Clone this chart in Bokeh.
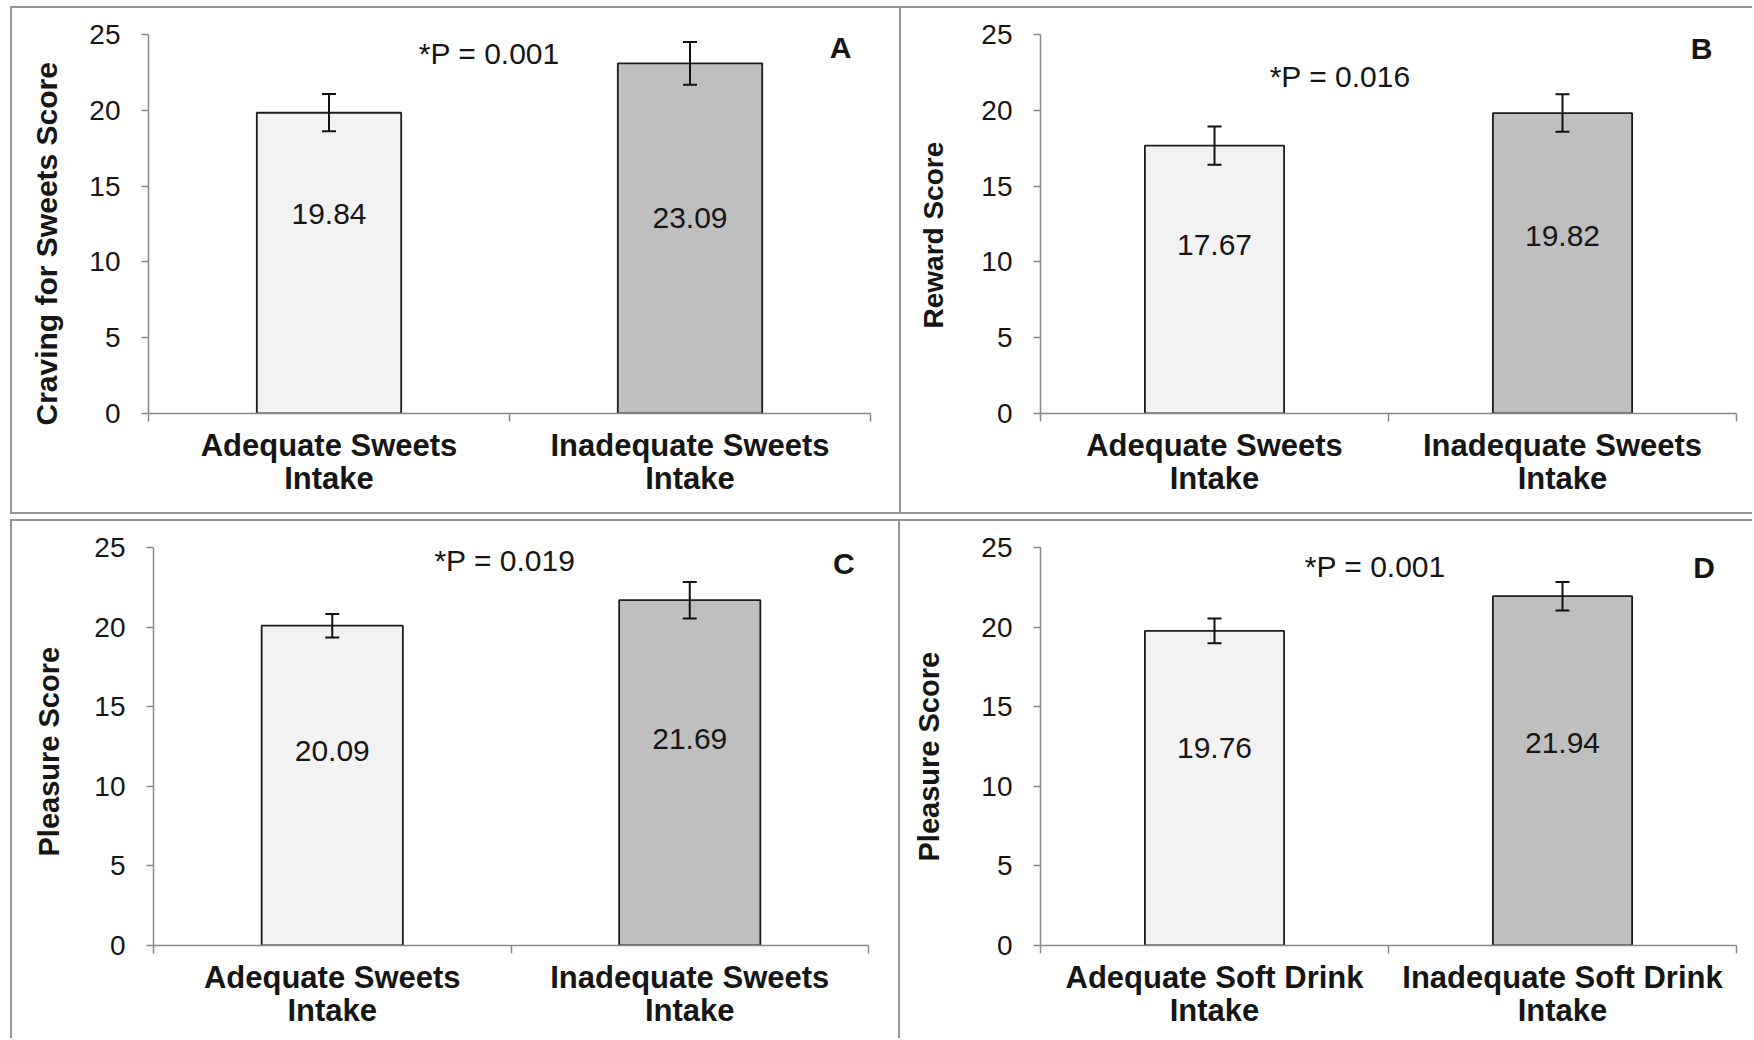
from bokeh.plotting import figure
from bokeh.models import Range1d, FixedTicker, Whisker, ColumnDataSource, TeeHead, Title, Spacer
from bokeh.layouts import row, column
from bokeh.embed import file_html
from bokeh.resources import INLINE
from bokeh.core.properties import value

FONT = "Liberation Sans"

# ---------------- data ----------------
sweets_categories = ["Adequate Sweets\nIntake", "Inadequate Sweets\nIntake"]
soft_categories = ["Adequate Soft Drink\nIntake", "Inadequate Soft Drink\nIntake"]
y_ticks = [0, 5, 10, 15, 20, 25]

craving_means = [19.84, 23.09]
craving_errors = [1.23, 1.41]
reward_means = [17.67, 19.82]
reward_errors = [1.26, 1.24]
pleasure_sweets_means = [20.09, 21.69]
pleasure_sweets_errors = [0.74, 1.15]
pleasure_soft_means = [19.76, 21.94]
pleasure_soft_errors = [0.78, 0.90]

panel_letters = ["A", "B", "C", "D"]
y_titles = ["Craving for Sweets  Score", "Reward Score", "Pleasure Score", "Pleasure Score"]
p_values = ["*P = 0.001", "*P = 0.016", "*P = 0.019", "*P = 0.001"]

# ---------------- styles / layout ----------------
bar_fills = ["#f2f2f2", "#bfbfbf"]
BORDER = "2px solid #959595"
AXIS = "#888888"
TXT = "#161616"

geometry = {
    "A": dict(w=887, h=504, l=136, r=33, t=26, b=103, bw=0.40,
              sides=["top", "left", "right", "bottom"],
              pv=(0.944, 23.73), let=(1.917, 24.17), vy=[13.17, 12.9],
              yt_off=-12, yt_pad=22, yt_stand_fb=42, yt_size="30px"),
    "B": dict(w=851, h=504, l=139, r=16, t=26, b=103, bw=0.40,
              sides=["top", "bottom"],
              pv=(0.861, 22.2), let=(1.90, 24.05), vy=[11.1, 11.7],
              yt_off=85, yt_pad=28, yt_stand_fb=47, yt_size="28px"),
    "C": dict(w=886, h=517, l=141, r=34, t=26, b=95, bw=0.395,
              sides=["top", "left", "right"],
              pv=(0.983, 24.16), let=(1.931, 24.01), vy=[12.2, 12.96],
              yt_off=89, yt_pad=25, yt_stand_fb=48, yt_size="29px"),
    "D": dict(w=852, h=517, l=140, r=16, t=26, b=95, bw=0.40,
              sides=["top"],
              pv=(0.962, 23.8), let=(1.907, 23.74), vy=[12.4, 12.7],
              yt_off=84, yt_pad=32, yt_stand_fb=47, yt_size="29px"),
}


def y_title(text, g):
    common = dict(text=text, align="left", offset=g["yt_off"],
                  text_font=FONT, text_font_size=g["yt_size"], text_font_style="bold",
                  text_color=TXT)
    try:
        return Title(standoff=4,
                     padding=dict(left=0, right=0, top=0, bottom=g["yt_pad"]),
                     **common)
    except Exception:
        return Title(standoff=g["yt_stand_fb"], **common)


def make_panel(letter, cats, means, errs, ytitle, ptext):
    g = geometry[letter]
    n = len(cats)
    xs = [i + 0.5 for i in range(n)]
    styles = {"box-sizing": "content-box"}
    for s in g["sides"]:
        styles["border-" + s] = BORDER
    p = figure(width=g["w"], height=g["h"],
               x_range=Range1d(0, n), y_range=Range1d(0, 25),
               output_backend="svg", toolbar_location=None,
               min_border_left=g["l"], min_border_right=g["r"],
               min_border_top=g["t"], min_border_bottom=g["b"],
               background_fill_color="white", border_fill_color="white",
               outline_line_color=None, styles=styles)
    p.grid.visible = False

    src = ColumnDataSource(dict(
        x=xs, top=means,
        upper=[m + e for m, e in zip(means, errs)],
        lower=[m - e for m, e in zip(means, errs)],
        fill=bar_fills[:n],
        label=["%.2f" % m for m in means],
        ly=g["vy"],
    ))
    p.vbar(x="x", top="top", bottom=0, width=g["bw"], source=src,
           fill_color="fill", line_color="#1c1c1c", line_width=1.8)
    w = Whisker(source=src, base="x", upper="upper", lower="lower",
                line_color="#111111", line_width=2, level="overlay",
                upper_head=TeeHead(size=14, line_color="#111111", line_width=2),
                lower_head=TeeHead(size=14, line_color="#111111", line_width=2))
    p.add_layout(w)

    p.text(x="x", y="ly", text="label", source=src,
           text_font=value(FONT), text_font_size="30px", text_color=TXT,
           text_align="center", text_baseline="middle")
    p.text(x=[g["pv"][0]], y=[g["pv"][1]], text=[ptext],
           text_font=value(FONT), text_font_size="30px", text_color=TXT,
           text_align="center", text_baseline="middle")
    p.text(x=[g["let"][0]], y=[g["let"][1]], text=[letter],
           text_font=value(FONT), text_font_size="30px", text_font_style="bold",
           text_color=TXT, text_align="center", text_baseline="middle")

    # y axis
    ya = p.yaxis[0]
    ya.ticker = FixedTicker(ticks=y_ticks)
    ya.axis_line_color = AXIS
    ya.axis_line_width = 1.5
    ya.major_tick_line_color = AXIS
    ya.major_tick_line_width = 1.5
    ya.major_tick_out = 7
    ya.major_tick_in = 0
    ya.minor_tick_line_color = None
    ya.major_label_standoff = 21
    ya.major_label_text_font = FONT
    ya.major_label_text_font_size = "28px"
    ya.major_label_text_color = TXT

    # y axis title, placed along the axis like the original
    p.add_layout(y_title(ytitle, g), "left")

    # x axis: labels at category centres, ticks at category boundaries
    xa = p.xaxis[0]
    xa.ticker = FixedTicker(ticks=xs, minor_ticks=list(range(n + 1)))
    xa.major_label_overrides = {x: c for x, c in zip(xs, cats)}
    xa.axis_line_color = AXIS
    xa.axis_line_width = 1.5
    xa.major_tick_out = 0
    xa.major_tick_in = 0
    xa.major_tick_line_color = None
    xa.minor_tick_out = 8
    xa.minor_tick_in = 0
    xa.minor_tick_line_color = AXIS
    xa.minor_tick_line_width = 1.5
    xa.major_label_standoff = 6
    xa.major_label_text_font = FONT
    xa.major_label_text_font_size = "31px"
    xa.major_label_text_font_style = "bold"
    xa.major_label_text_color = TXT
    xa.major_label_text_line_height = 0.97
    return p


pA = make_panel("A", sweets_categories, craving_means, craving_errors, y_titles[0], p_values[0])
pB = make_panel("B", sweets_categories, reward_means, reward_errors, y_titles[1], p_values[1])
pC = make_panel("C", sweets_categories, pleasure_sweets_means, pleasure_sweets_errors, y_titles[2], p_values[2])
pD = make_panel("D", soft_categories, pleasure_soft_means, pleasure_soft_errors, y_titles[3], p_values[3])

layout = column(
    Spacer(width=10, height=6),
    row(Spacer(width=10, height=10), pA, pB, spacing=0),
    Spacer(width=10, height=5),
    row(Spacer(width=10, height=10), pC, pD, spacing=0),
    spacing=0,
)

open("out.html", "w").write(file_html(layout, INLINE))
